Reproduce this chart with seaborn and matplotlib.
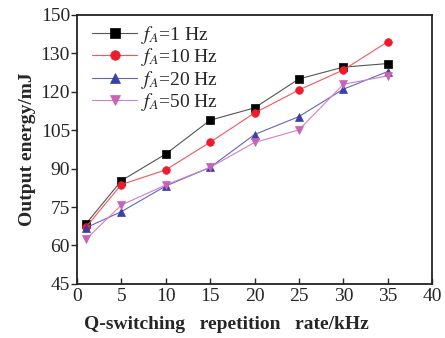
import matplotlib
matplotlib.use("Agg")
import matplotlib.pyplot as plt
import seaborn as sns
import pandas as pd

rates = [1, 5, 10, 15, 20, 25, 30, 35]
e_1hz = [68.4, 85.3, 95.7, 108.9, 113.7, 125.0, 129.6, 131.0]
e_10hz = [67.1, 83.8, 89.5, 100.3, 111.7, 120.7, 128.5, 139.5]
e_20hz = [66.9, 73.2, 83.2, 90.5, 103.3, 110.3, 121.0, 127.9]
e_50hz = [62.4, 75.8, 83.6, 90.5, 100.2, 105.1, 122.9, 126.2]
series_labels = [r"$f_A$=1 Hz", r"$f_A$=10 Hz", r"$f_A$=20 Hz", r"$f_A$=50 Hz"]
ytick_vals = [45, 60, 75, 90, 105, 120, 135, 150]
ytick_labels = ["45", "60", "75", "90", "105", "120", "130", "150"]
xtick_vals = [0, 5, 10, 15, 20, 25, 30, 35, 40]

sns.set_style("ticks")
plt.rcParams["font.family"] = ["Liberation Serif", "DejaVu Serif"]
plt.rcParams["mathtext.fontset"] = "stix"

df = pd.DataFrame({
    "rate": rates * 4,
    "energy": e_1hz + e_10hz + e_20hz + e_50hz,
    "series": sum([[l] * len(rates) for l in series_labels], []),
})

marker_colors = ["#000000", "#ee1c2a", "#3b3fa6", "#c862b8"]
line_colors = ["#555555", "#f4555c", "#6265c0", "#d27fc8"]
markers = ["s", "o", "^", "v"]

fig = plt.figure(figsize=(4.45, 3.38), dpi=100)
ax = fig.add_axes([0.173, 0.160, 0.798, 0.796])

for lab, mc, lc, mk in zip(series_labels, marker_colors, line_colors, markers):
    sub = df[df["series"] == lab]
    sns.lineplot(data=sub, x="rate", y="energy", ax=ax, color=lc, marker=mk,
                 markersize=5.5, linewidth=0.8, markeredgewidth=0.5,
                 markeredgecolor=mc, markerfacecolor=mc, label=lab)

ax.set_xlim(0, 40)
ax.set_ylim(45, 150)
ax.set_xticks(xtick_vals)
ax.set_xticklabels([str(v) for v in xtick_vals], fontsize=14)
ax.set_yticks(ytick_vals)
ax.set_yticklabels(ytick_labels, fontsize=14)
ax.tick_params(axis="x", direction="in", length=4, width=1, pad=3)
ax.tick_params(axis="y", direction="out", length=4, width=1, pad=1)
for s in ax.spines.values():
    s.set_linewidth(1.3)
    s.set_color("#222222")

ax.set_xlabel("Q-switching   repetition   rate/kHz", fontsize=14, fontweight="bold", labelpad=8)
ax.xaxis.set_label_coords(0.42, -0.12)
ax.set_ylabel("Output energy/mJ", fontsize=14, fontweight="bold", labelpad=3)

leg = ax.legend(loc="upper left", frameon=False, fontsize=14, handlelength=2.3,
                handletextpad=0.2, labelspacing=0.02, borderaxespad=0.2,
                markerscale=1.25, bbox_to_anchor=(0.01, 1.01))

fig.savefig("out.png", dpi=100)
